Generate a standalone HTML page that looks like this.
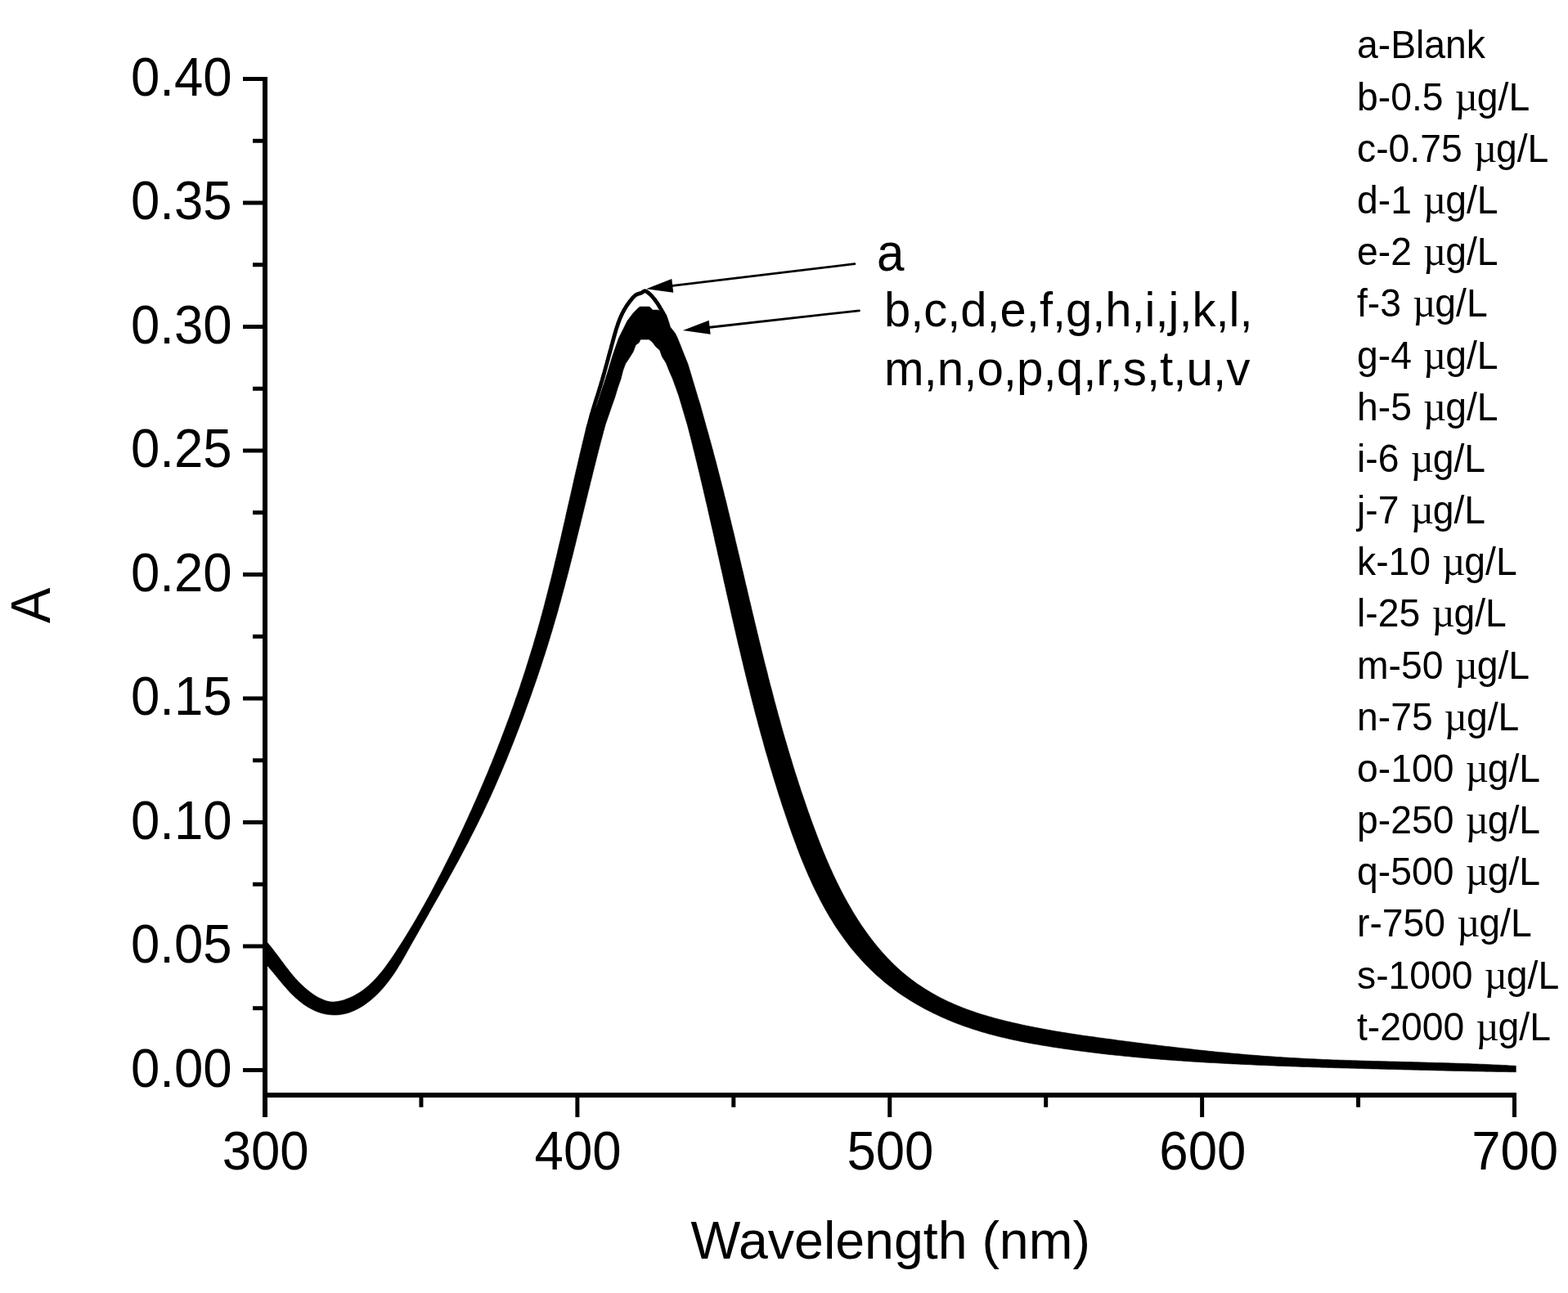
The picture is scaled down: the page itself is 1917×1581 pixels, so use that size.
<!DOCTYPE html>
<html lang="en"><head><meta charset="utf-8"><title>Absorbance vs Wavelength</title>
<style>html,body{margin:0;padding:0;background:#fff;}body{width:1917px;height:1581px;overflow:hidden;}svg{display:block;}text{font-family:"Liberation Sans", Arial, Helvetica, sans-serif;fill:#000;}.mu{font-family:"Liberation Serif", "DejaVu Serif", serif;}</style>
</head><body>
<svg width="1917" height="1581" viewBox="0 0 1917 1581" role="img" aria-label="Absorbance versus wavelength spectra">
<rect x="0" y="0" width="1917" height="1581" fill="#fff"/>
<path d="M324.0,1149.2 L326.7,1152.3 L329.4,1155.5 L331.9,1158.6 L334.4,1161.8 L336.8,1165.0 L339.2,1168.1 L341.6,1171.3 L343.9,1174.5 L346.3,1177.6 L348.6,1180.8 L351.1,1183.9 L353.5,1187.1 L356.0,1190.2 L358.6,1193.3 L361.3,1196.4 L364.1,1199.4 L367.0,1202.4 L370.0,1205.3 L373.0,1208.1 L376.2,1210.8 L379.5,1213.3 L382.8,1215.7 L386.2,1217.9 L389.7,1219.9 L393.3,1221.6 L397.0,1223.2 L400.7,1224.3 L404.6,1225.0 L408.5,1225.1 L412.5,1224.6 L416.5,1223.8 L420.5,1222.7 L424.3,1221.3 L428.0,1219.8 L431.5,1218.2 L435.0,1216.3 L438.4,1214.3 L441.6,1212.2 L444.8,1209.9 L447.9,1207.4 L450.8,1204.9 L453.7,1202.2 L456.6,1199.4 L459.3,1196.6 L462.0,1193.6 L464.6,1190.5 L467.2,1187.4 L469.7,1184.2 L472.1,1180.9 L474.5,1177.6 L476.9,1174.3 L479.2,1170.9 L481.5,1167.5 L483.8,1164.1 L486.0,1160.6 L488.2,1157.2 L490.4,1153.7 L492.6,1150.3 L494.8,1146.8 L496.9,1143.4 L499.0,1139.9 L501.1,1136.4 L503.2,1133.0 L505.3,1129.5 L507.4,1126.0 L509.4,1122.5 L511.4,1119.0 L513.4,1115.5 L515.4,1112.0 L517.4,1108.5 L519.4,1105.0 L521.3,1101.5 L523.3,1097.9 L525.2,1094.4 L527.1,1090.9 L529.0,1087.3 L530.9,1083.8 L532.7,1080.2 L534.6,1076.7 L536.4,1073.1 L538.3,1069.6 L540.1,1066.0 L541.9,1062.4 L543.7,1058.8 L545.5,1055.3 L547.3,1051.7 L549.1,1048.1 L550.9,1044.5 L552.7,1040.9 L554.4,1037.3 L556.2,1033.7 L557.9,1030.0 L559.6,1026.4 L561.4,1022.8 L563.1,1019.2 L564.8,1015.5 L566.5,1011.9 L568.2,1008.2 L569.9,1004.6 L571.6,1000.9 L573.2,997.3 L574.9,993.6 L576.6,989.9 L578.2,986.3 L579.8,982.6 L581.5,978.9 L583.1,975.2 L584.7,971.5 L586.3,967.8 L587.9,964.1 L589.5,960.4 L591.1,956.7 L592.6,953.0 L594.2,949.3 L595.8,945.6 L597.3,941.9 L598.8,938.1 L600.4,934.4 L601.9,930.7 L603.4,926.9 L604.9,923.2 L606.4,919.4 L607.9,915.7 L609.3,911.9 L610.8,908.2 L612.3,904.4 L613.7,900.6 L615.1,896.9 L616.6,893.1 L618.0,889.3 L619.4,885.5 L620.8,881.7 L622.2,878.0 L623.6,874.2 L624.9,870.4 L626.3,866.6 L627.7,862.8 L629.0,859.0 L630.3,855.1 L631.7,851.3 L633.0,847.5 L634.3,843.7 L635.6,839.9 L636.8,836.1 L638.1,832.2 L639.4,828.4 L640.6,824.6 L641.9,820.7 L643.1,816.9 L644.3,813.0 L645.5,809.2 L646.7,805.3 L647.9,801.5 L649.1,797.6 L650.3,793.8 L651.5,789.9 L652.6,786.1 L653.7,782.2 L654.9,778.3 L656.0,774.5 L657.1,770.6 L658.2,766.7 L659.3,762.8 L660.4,759.0 L661.4,755.1 L662.5,751.2 L663.5,747.3 L664.6,743.4 L665.6,739.5 L666.6,735.6 L667.6,731.7 L668.6,727.8 L669.6,723.9 L670.6,720.0 L671.6,716.1 L672.6,712.2 L673.6,708.3 L674.5,704.4 L675.5,700.5 L676.4,696.6 L677.4,692.7 L678.3,688.8 L679.2,684.8 L680.2,680.9 L681.1,677.0 L682.0,673.1 L682.9,669.2 L683.8,665.3 L684.8,661.3 L685.7,657.4 L686.6,653.5 L687.5,649.6 L688.4,645.6 L689.3,641.7 L690.2,637.8 L691.1,633.9 L691.9,629.9 L692.8,626.0 L693.7,622.1 L694.6,618.1 L695.5,614.2 L696.4,610.3 L697.3,606.4 L698.2,602.4 L699.1,598.5 L700.0,594.6 L700.9,590.6 L701.7,586.7 L702.6,582.8 L703.5,578.9 L704.4,574.9 L705.4,571.0 L706.3,567.1 L707.2,563.1 L708.1,559.2 L709.0,555.3 L709.9,551.4 L710.9,547.4 L711.8,543.5 L712.7,539.6 L713.7,535.7 L714.6,531.8 L715.6,527.8 L716.5,523.9 L717.5,520.0 L729.7,495.0 L736.0,476.1 L742.8,455.3 L749.1,434.4 L756.4,413.5 L766.8,392.6 L774.6,382.2 L780.4,376.5 L782.5,375.1 L793.9,375.1 L798.1,379.1 L804.4,379.1 L810.6,382.2 L814.3,384.3 L815.9,388.5 L818.0,394.7 L819.5,399.9 L825.3,407.2 L828.4,413.5 L832.6,423.9 L836.7,434.4 L840.9,444.8 L844.1,455.3 L847.2,465.7 L850.3,476.1 L853.4,486.6 L856.1,495.0 L863.0,520.0 L864.1,523.9 L865.2,527.7 L866.3,531.6 L867.3,535.5 L868.4,539.3 L869.5,543.2 L870.5,547.1 L871.6,551.0 L872.6,554.9 L873.6,558.7 L874.7,562.6 L875.7,566.5 L876.7,570.4 L877.7,574.3 L878.7,578.2 L879.7,582.0 L880.7,585.9 L881.7,589.8 L882.7,593.7 L883.7,597.6 L884.7,601.5 L885.6,605.4 L886.6,609.3 L887.6,613.2 L888.5,617.1 L889.5,621.0 L890.4,624.9 L891.4,628.8 L892.3,632.7 L893.3,636.6 L894.2,640.5 L895.2,644.4 L896.1,648.3 L897.1,652.2 L898.0,656.1 L898.9,660.0 L899.8,663.9 L900.8,667.8 L901.7,671.7 L902.6,675.6 L903.6,679.5 L904.5,683.4 L905.4,687.3 L906.3,691.2 L907.2,695.1 L908.2,699.0 L909.1,702.9 L910.0,706.9 L910.9,710.8 L911.8,714.7 L912.8,718.6 L913.7,722.5 L914.6,726.4 L915.5,730.3 L916.4,734.2 L917.4,738.1 L918.3,742.0 L919.2,745.9 L920.1,749.8 L921.1,753.7 L922.0,757.6 L922.9,761.5 L923.9,765.4 L924.8,769.3 L925.7,773.2 L926.7,777.1 L927.6,781.0 L928.6,784.9 L929.5,788.8 L930.5,792.7 L931.4,796.6 L932.4,800.5 L933.4,804.4 L934.3,808.3 L935.3,812.2 L936.3,816.0 L937.3,819.9 L938.3,823.8 L939.2,827.7 L940.2,831.6 L941.2,835.5 L942.2,839.3 L943.3,843.2 L944.3,847.1 L945.3,851.0 L946.3,854.9 L947.3,858.7 L948.4,862.6 L949.4,866.5 L950.5,870.3 L951.5,874.2 L952.6,878.1 L953.7,881.9 L954.7,885.8 L955.8,889.7 L956.9,893.5 L958.0,897.4 L959.1,901.2 L960.2,905.1 L961.4,908.9 L962.5,912.8 L963.6,916.6 L964.8,920.5 L965.9,924.3 L967.1,928.1 L968.3,932.0 L969.4,935.8 L970.6,939.6 L971.8,943.5 L973.0,947.3 L974.3,951.1 L975.5,954.9 L976.7,958.8 L978.0,962.6 L979.2,966.4 L980.5,970.2 L981.8,974.0 L983.1,977.8 L984.4,981.6 L985.7,985.4 L987.0,989.2 L988.3,993.0 L989.7,996.8 L991.0,1000.6 L992.4,1004.4 L993.8,1008.2 L995.2,1011.9 L996.6,1015.7 L998.0,1019.5 L999.4,1023.2 L1000.9,1027.0 L1002.3,1030.8 L1003.8,1034.5 L1005.3,1038.2 L1006.8,1042.0 L1008.4,1045.7 L1009.9,1049.4 L1011.5,1053.1 L1013.1,1056.8 L1014.7,1060.5 L1016.4,1064.1 L1018.0,1067.8 L1019.7,1071.4 L1021.5,1075.1 L1023.2,1078.7 L1025.0,1082.3 L1026.8,1085.9 L1028.6,1089.4 L1030.4,1093.0 L1032.3,1096.5 L1034.2,1100.0 L1036.2,1103.6 L1038.2,1107.0 L1040.2,1110.5 L1042.2,1114.0 L1044.3,1117.4 L1046.4,1120.8 L1048.5,1124.2 L1050.7,1127.5 L1052.9,1130.9 L1055.2,1134.2 L1057.5,1137.5 L1059.8,1140.8 L1062.2,1144.0 L1064.6,1147.2 L1067.1,1150.4 L1069.5,1153.6 L1072.1,1156.7 L1074.6,1159.7 L1077.2,1162.8 L1079.9,1165.8 L1082.6,1168.8 L1085.3,1171.7 L1088.1,1174.5 L1090.9,1177.4 L1093.8,1180.2 L1096.7,1182.9 L1099.6,1185.6 L1102.6,1188.2 L1105.6,1190.8 L1108.7,1193.3 L1111.8,1195.8 L1115.0,1198.2 L1118.2,1200.5 L1121.4,1202.9 L1124.7,1205.1 L1128.0,1207.3 L1131.4,1209.4 L1134.8,1211.5 L1138.2,1213.6 L1141.6,1215.5 L1145.1,1217.5 L1148.7,1219.4 L1152.2,1221.2 L1155.8,1222.9 L1159.4,1224.7 L1163.0,1226.3 L1166.7,1227.9 L1170.4,1229.5 L1174.1,1231.0 L1177.8,1232.5 L1181.6,1233.9 L1185.4,1235.3 L1189.1,1236.6 L1193.0,1237.9 L1196.8,1239.2 L1200.6,1240.4 L1204.5,1241.5 L1208.3,1242.7 L1212.2,1243.8 L1216.1,1244.9 L1220.0,1245.9 L1223.9,1246.9 L1227.8,1247.9 L1231.7,1248.9 L1235.6,1249.8 L1239.6,1250.7 L1243.5,1251.6 L1247.4,1252.5 L1251.4,1253.4 L1255.3,1254.2 L1259.2,1255.0 L1263.2,1255.8 L1267.1,1256.6 L1271.1,1257.3 L1275.0,1258.1 L1279.0,1258.8 L1282.9,1259.5 L1286.9,1260.2 L1290.8,1260.9 L1294.8,1261.5 L1298.8,1262.2 L1302.7,1262.8 L1306.7,1263.5 L1310.7,1264.1 L1314.6,1264.7 L1318.6,1265.3 L1322.6,1265.9 L1326.5,1266.5 L1330.5,1267.0 L1334.5,1267.6 L1338.5,1268.1 L1342.5,1268.7 L1346.4,1269.2 L1350.4,1269.8 L1354.4,1270.3 L1358.4,1270.8 L1362.3,1271.3 L1366.3,1271.9 L1370.3,1272.4 L1374.3,1272.9 L1378.3,1273.4 L1382.2,1273.9 L1386.2,1274.4 L1390.2,1275.0 L1394.2,1275.5 L1398.2,1276.0 L1402.1,1276.5 L1406.1,1277.0 L1410.1,1277.4 L1414.1,1277.9 L1418.0,1278.4 L1422.0,1278.9 L1426.0,1279.4 L1430.0,1279.8 L1434.0,1280.3 L1437.9,1280.8 L1441.9,1281.2 L1445.9,1281.7 L1449.9,1282.1 L1453.9,1282.6 L1457.9,1283.0 L1461.8,1283.5 L1465.8,1283.9 L1469.8,1284.3 L1473.8,1284.7 L1477.8,1285.2 L1481.8,1285.6 L1485.7,1286.0 L1489.7,1286.4 L1493.7,1286.8 L1497.7,1287.1 L1501.7,1287.5 L1505.7,1287.9 L1509.7,1288.3 L1513.7,1288.6 L1517.7,1289.0 L1521.6,1289.3 L1525.6,1289.7 L1529.6,1290.0 L1533.6,1290.3 L1537.6,1290.6 L1541.6,1290.9 L1545.6,1291.3 L1549.6,1291.5 L1553.6,1291.8 L1557.6,1292.1 L1561.6,1292.4 L1565.6,1292.6 L1569.6,1292.9 L1573.6,1293.1 L1577.6,1293.4 L1581.6,1293.6 L1585.6,1293.8 L1589.6,1294.0 L1593.6,1294.3 L1597.6,1294.5 L1601.6,1294.7 L1605.6,1294.8 L1609.7,1295.0 L1613.7,1295.2 L1617.7,1295.4 L1621.7,1295.5 L1625.7,1295.7 L1629.7,1295.9 L1633.7,1296.0 L1637.7,1296.2 L1641.7,1296.3 L1645.7,1296.4 L1649.8,1296.6 L1653.8,1296.7 L1657.8,1296.8 L1661.8,1296.9 L1665.8,1297.1 L1669.8,1297.2 L1673.8,1297.3 L1677.8,1297.4 L1681.8,1297.5 L1685.9,1297.6 L1689.9,1297.7 L1693.9,1297.8 L1697.9,1297.9 L1701.9,1298.0 L1705.9,1298.1 L1709.9,1298.2 L1713.9,1298.3 L1717.9,1298.4 L1721.9,1298.5 L1725.9,1298.6 L1729.9,1298.7 L1733.9,1298.8 L1737.9,1298.9 L1741.9,1299.0 L1746.0,1299.2 L1750.0,1299.3 L1753.9,1299.4 L1757.9,1299.5 L1761.9,1299.6 L1765.9,1299.7 L1769.9,1299.8 L1773.9,1299.9 L1777.9,1300.1 L1781.9,1300.2 L1785.9,1300.3 L1789.9,1300.5 L1793.9,1300.6 L1797.8,1300.7 L1801.8,1300.9 L1805.8,1301.0 L1809.8,1301.2 L1813.7,1301.3 L1817.7,1301.5 L1821.7,1301.7 L1825.6,1301.9 L1829.6,1302.1 L1833.6,1302.2 L1837.5,1302.4 L1841.5,1302.6 L1845.4,1302.9 L1849.4,1303.1 L1853.3,1303.3 L1853.3,1310.8 L1849.3,1310.7 L1845.3,1310.7 L1841.2,1310.6 L1837.2,1310.5 L1833.2,1310.5 L1829.2,1310.4 L1825.2,1310.3 L1821.2,1310.2 L1817.1,1310.2 L1813.1,1310.1 L1809.1,1310.0 L1805.1,1309.9 L1801.1,1309.9 L1797.0,1309.8 L1793.0,1309.7 L1789.0,1309.6 L1785.0,1309.5 L1781.0,1309.4 L1777.0,1309.4 L1772.9,1309.3 L1768.9,1309.2 L1764.9,1309.1 L1760.9,1309.0 L1756.9,1308.9 L1752.9,1308.8 L1748.8,1308.7 L1744.8,1308.6 L1740.8,1308.5 L1736.8,1308.4 L1732.8,1308.3 L1728.7,1308.2 L1724.7,1308.1 L1720.7,1308.0 L1716.7,1307.9 L1712.7,1307.8 L1708.6,1307.7 L1704.6,1307.6 L1700.6,1307.5 L1696.6,1307.4 L1692.6,1307.3 L1688.6,1307.2 L1684.5,1307.1 L1680.5,1307.0 L1676.5,1306.9 L1672.5,1306.8 L1668.5,1306.7 L1664.4,1306.6 L1660.4,1306.5 L1656.4,1306.3 L1652.4,1306.2 L1648.4,1306.1 L1644.3,1306.0 L1640.3,1305.9 L1636.3,1305.8 L1632.3,1305.7 L1628.3,1305.5 L1624.2,1305.4 L1620.2,1305.3 L1616.2,1305.2 L1612.2,1305.0 L1608.2,1304.9 L1604.2,1304.8 L1600.1,1304.6 L1596.1,1304.5 L1592.1,1304.4 L1588.1,1304.2 L1584.1,1304.1 L1580.1,1304.0 L1576.0,1303.8 L1572.0,1303.7 L1568.0,1303.5 L1564.0,1303.4 L1560.0,1303.2 L1556.0,1303.0 L1552.0,1302.9 L1547.9,1302.7 L1543.9,1302.5 L1539.9,1302.4 L1535.9,1302.2 L1531.9,1302.0 L1527.9,1301.8 L1523.9,1301.7 L1519.9,1301.5 L1515.9,1301.3 L1511.8,1301.1 L1507.8,1300.9 L1503.8,1300.7 L1499.8,1300.5 L1495.8,1300.3 L1491.8,1300.1 L1487.8,1299.8 L1483.8,1299.6 L1479.8,1299.4 L1475.8,1299.2 L1471.8,1298.9 L1467.8,1298.7 L1463.8,1298.4 L1459.8,1298.2 L1455.8,1297.9 L1451.8,1297.7 L1447.8,1297.4 L1443.8,1297.1 L1439.8,1296.9 L1435.8,1296.6 L1431.8,1296.3 L1427.8,1296.0 L1423.8,1295.7 L1419.8,1295.4 L1415.8,1295.0 L1411.8,1294.7 L1407.8,1294.4 L1403.8,1294.0 L1399.8,1293.7 L1395.8,1293.3 L1391.8,1293.0 L1387.8,1292.6 L1383.8,1292.2 L1379.9,1291.8 L1375.9,1291.5 L1371.9,1291.0 L1367.9,1290.6 L1363.9,1290.2 L1359.9,1289.8 L1355.9,1289.4 L1351.9,1288.9 L1347.9,1288.4 L1343.9,1288.0 L1339.9,1287.5 L1335.9,1287.0 L1331.9,1286.5 L1328.0,1286.0 L1324.0,1285.5 L1320.0,1285.0 L1316.0,1284.4 L1312.0,1283.9 L1308.0,1283.3 L1304.0,1282.8 L1300.0,1282.2 L1296.0,1281.6 L1292.0,1281.0 L1288.0,1280.4 L1284.1,1279.8 L1280.1,1279.1 L1276.1,1278.5 L1272.1,1277.8 L1268.1,1277.1 L1264.1,1276.4 L1260.1,1275.7 L1256.2,1275.0 L1252.2,1274.2 L1248.2,1273.4 L1244.3,1272.6 L1240.3,1271.8 L1236.4,1270.9 L1232.4,1270.0 L1228.5,1269.1 L1224.6,1268.2 L1220.7,1267.2 L1216.8,1266.2 L1212.9,1265.2 L1209.0,1264.2 L1205.1,1263.1 L1201.2,1262.0 L1197.3,1260.8 L1193.5,1259.6 L1189.7,1258.4 L1185.8,1257.1 L1182.0,1255.8 L1178.2,1254.5 L1174.4,1253.1 L1170.7,1251.7 L1166.9,1250.2 L1163.2,1248.7 L1159.5,1247.2 L1155.8,1245.6 L1152.1,1244.0 L1148.4,1242.3 L1144.8,1240.6 L1141.2,1238.9 L1137.6,1237.1 L1134.0,1235.3 L1130.4,1233.4 L1126.9,1231.5 L1123.4,1229.5 L1119.9,1227.5 L1116.5,1225.5 L1113.1,1223.4 L1109.7,1221.3 L1106.3,1219.1 L1103.0,1216.9 L1099.7,1214.7 L1096.5,1212.4 L1093.2,1210.0 L1090.1,1207.6 L1086.9,1205.2 L1083.8,1202.7 L1080.7,1200.2 L1077.7,1197.6 L1074.7,1195.0 L1071.7,1192.4 L1068.8,1189.7 L1065.9,1186.9 L1063.0,1184.1 L1060.2,1181.3 L1057.4,1178.4 L1054.7,1175.5 L1052.0,1172.6 L1049.4,1169.6 L1046.7,1166.6 L1044.2,1163.6 L1041.6,1160.5 L1039.1,1157.4 L1036.7,1154.2 L1034.3,1151.0 L1031.9,1147.8 L1029.6,1144.6 L1027.3,1141.3 L1025.0,1138.0 L1022.8,1134.7 L1020.6,1131.4 L1018.5,1128.0 L1016.4,1124.6 L1014.3,1121.2 L1012.3,1117.7 L1010.3,1114.3 L1008.3,1110.8 L1006.4,1107.3 L1004.5,1103.7 L1002.6,1100.2 L1000.8,1096.6 L999.0,1093.0 L997.2,1089.4 L995.4,1085.8 L993.7,1082.2 L992.0,1078.5 L990.4,1074.8 L988.7,1071.2 L987.1,1067.5 L985.5,1063.7 L983.9,1060.0 L982.4,1056.3 L980.8,1052.5 L979.3,1048.8 L977.8,1045.0 L976.4,1041.2 L974.9,1037.4 L973.5,1033.6 L972.1,1029.8 L970.7,1026.0 L969.3,1022.2 L967.9,1018.4 L966.6,1014.6 L965.2,1010.7 L963.9,1006.9 L962.6,1003.1 L961.3,999.3 L960.0,995.4 L958.7,991.6 L957.4,987.7 L956.1,983.9 L954.9,980.1 L953.7,976.2 L952.4,972.4 L951.2,968.5 L950.0,964.7 L948.8,960.8 L947.6,957.0 L946.4,953.1 L945.2,949.3 L944.1,945.4 L942.9,941.5 L941.7,937.7 L940.6,933.8 L939.5,930.0 L938.4,926.1 L937.2,922.2 L936.1,918.4 L935.0,914.5 L933.9,910.6 L932.9,906.8 L931.8,902.9 L930.7,899.0 L929.6,895.1 L928.6,891.3 L927.5,887.4 L926.5,883.5 L925.5,879.6 L924.4,875.7 L923.4,871.9 L922.4,868.0 L921.4,864.1 L920.4,860.2 L919.4,856.3 L918.4,852.4 L917.4,848.5 L916.5,844.6 L915.5,840.8 L914.5,836.9 L913.5,833.0 L912.6,829.1 L911.6,825.2 L910.7,821.3 L909.7,817.4 L908.8,813.5 L907.9,809.6 L906.9,805.7 L906.0,801.8 L905.1,797.9 L904.2,794.0 L903.2,790.1 L902.3,786.2 L901.4,782.3 L900.5,778.4 L899.6,774.5 L898.7,770.6 L897.8,766.7 L896.9,762.8 L896.0,758.8 L895.1,754.9 L894.2,751.0 L893.3,747.1 L892.5,743.2 L891.6,739.3 L890.7,735.4 L889.8,731.5 L888.9,727.6 L888.0,723.7 L887.2,719.7 L886.3,715.8 L885.4,711.9 L884.5,708.0 L883.7,704.1 L882.8,700.2 L881.9,696.2 L881.0,692.3 L880.2,688.4 L879.3,684.5 L878.4,680.6 L877.5,676.7 L876.7,672.7 L875.8,668.8 L874.9,664.9 L874.0,661.0 L873.2,657.1 L872.3,653.2 L871.4,649.2 L870.5,645.3 L869.6,641.4 L868.7,637.5 L867.8,633.6 L866.9,629.7 L866.0,625.7 L865.2,621.8 L864.3,617.9 L863.3,614.0 L862.4,610.1 L861.5,606.1 L860.6,602.2 L859.7,598.3 L858.8,594.4 L857.9,590.5 L856.9,586.6 L856.0,582.6 L855.1,578.7 L854.1,574.8 L853.2,570.9 L852.3,567.0 L851.3,563.1 L850.3,559.1 L849.4,555.2 L848.4,551.3 L847.4,547.4 L846.5,543.5 L845.5,539.6 L844.5,535.6 L843.5,531.7 L842.5,527.8 L841.5,523.9 L840.5,520.0 L833.1,495.0 L830.0,484.5 L826.3,474.1 L822.1,462.6 L818.0,453.2 L814.3,443.8 L809.6,436.5 L806.5,428.1 L801.8,423.9 L797.1,417.7 L793.4,415.1 L783.0,415.1 L781.4,418.7 L777.2,421.9 L774.1,430.2 L768.9,438.6 L764.7,444.8 L761.6,453.2 L759.0,463.6 L755.3,474.1 L752.2,484.5 L748.5,495.0 L739.9,520.0 L738.9,523.9 L737.8,527.8 L736.8,531.7 L735.8,535.5 L734.7,539.4 L733.7,543.3 L732.7,547.2 L731.7,551.1 L730.7,555.0 L729.7,558.9 L728.7,562.8 L727.8,566.7 L726.8,570.6 L725.8,574.5 L724.8,578.4 L723.9,582.3 L722.9,586.2 L721.9,590.1 L721.0,594.0 L720.0,597.9 L719.0,601.8 L718.1,605.7 L717.1,609.7 L716.2,613.6 L715.2,617.5 L714.2,621.4 L713.3,625.3 L712.3,629.2 L711.4,633.1 L710.4,637.0 L709.5,640.9 L708.5,644.8 L707.5,648.7 L706.6,652.6 L705.6,656.5 L704.6,660.4 L703.7,664.3 L702.7,668.2 L701.7,672.1 L700.8,676.0 L699.8,679.9 L698.8,683.8 L697.8,687.7 L696.8,691.6 L695.8,695.5 L694.8,699.4 L693.8,703.3 L692.8,707.2 L691.7,711.1 L690.7,715.0 L689.7,718.8 L688.6,722.7 L687.6,726.6 L686.5,730.5 L685.5,734.4 L684.4,738.2 L683.3,742.1 L682.3,746.0 L681.2,749.8 L680.1,753.7 L678.9,757.6 L677.8,761.4 L676.7,765.3 L675.6,769.1 L674.4,773.0 L673.2,776.8 L672.1,780.7 L670.9,784.5 L669.7,788.4 L668.5,792.2 L667.3,796.0 L666.1,799.9 L664.8,803.7 L663.6,807.5 L662.4,811.3 L661.1,815.2 L659.8,819.0 L658.6,822.8 L657.3,826.6 L656.0,830.4 L654.7,834.2 L653.4,838.0 L652.0,841.8 L650.7,845.6 L649.4,849.4 L648.0,853.2 L646.7,857.0 L645.3,860.8 L643.9,864.6 L642.6,868.3 L641.2,872.1 L639.8,875.9 L638.4,879.7 L636.9,883.4 L635.5,887.2 L634.1,890.9 L632.6,894.7 L631.2,898.5 L629.7,902.2 L628.3,906.0 L626.8,909.7 L625.3,913.4 L623.8,917.2 L622.3,920.9 L620.8,924.6 L619.3,928.4 L617.8,932.1 L616.2,935.8 L614.7,939.5 L613.1,943.2 L611.5,946.9 L609.9,950.6 L608.3,954.3 L606.7,958.0 L605.1,961.7 L603.5,965.3 L601.8,969.0 L600.2,972.7 L598.5,976.3 L596.8,980.0 L595.1,983.6 L593.4,987.2 L591.7,990.8 L590.0,994.5 L588.2,998.1 L586.4,1001.7 L584.7,1005.3 L582.9,1008.9 L581.1,1012.5 L579.3,1016.1 L577.5,1019.6 L575.6,1023.2 L573.8,1026.8 L572.0,1030.4 L570.1,1033.9 L568.2,1037.5 L566.4,1041.0 L564.5,1044.6 L562.6,1048.1 L560.7,1051.7 L558.8,1055.2 L556.8,1058.7 L554.9,1062.3 L553.0,1065.8 L551.0,1069.3 L549.1,1072.8 L547.1,1076.4 L545.1,1079.9 L543.2,1083.4 L541.2,1086.9 L539.2,1090.4 L537.3,1093.9 L535.3,1097.4 L533.3,1100.9 L531.3,1104.4 L529.3,1107.9 L527.3,1111.4 L525.3,1114.9 L523.4,1118.4 L521.4,1121.9 L519.4,1125.4 L517.4,1128.9 L515.4,1132.4 L513.4,1135.9 L511.5,1139.4 L509.5,1142.9 L507.5,1146.4 L505.5,1149.9 L503.6,1153.3 L501.6,1156.8 L499.7,1160.3 L497.7,1163.8 L495.8,1167.3 L493.8,1170.8 L491.8,1174.2 L489.8,1177.7 L487.7,1181.1 L485.6,1184.5 L483.4,1187.9 L481.2,1191.2 L478.9,1194.5 L476.5,1197.8 L474.1,1201.0 L471.5,1204.2 L468.9,1207.4 L466.2,1210.4 L463.3,1213.5 L460.4,1216.4 L457.4,1219.2 L454.3,1222.0 L451.1,1224.6 L447.8,1227.0 L444.5,1229.4 L441.0,1231.5 L437.5,1233.5 L434.0,1235.2 L430.4,1236.8 L426.7,1238.2 L422.9,1239.3 L419.1,1240.1 L415.3,1240.7 L411.4,1241.0 L407.6,1241.0 L403.7,1240.8 L399.8,1240.3 L396.0,1239.6 L392.2,1238.6 L388.4,1237.3 L384.8,1235.8 L381.2,1234.0 L377.6,1232.1 L374.2,1230.0 L370.8,1227.7 L367.6,1225.2 L364.4,1222.6 L361.3,1219.9 L358.3,1217.1 L355.4,1214.2 L352.6,1211.2 L349.8,1208.1 L347.1,1205.0 L344.5,1201.9 L341.9,1198.8 L339.4,1195.7 L336.8,1192.5 L334.3,1189.4 L331.7,1186.4 L329.2,1183.4 L326.6,1180.4 L324.0,1177.6 Z" fill="#000" stroke="#000" stroke-width="0.6" stroke-linejoin="round"/>
<path d="M718.4,527.0 L718.8,525.0 L719.2,523.0 L719.6,521.0 L720.1,519.0 L720.5,517.1 L721.0,515.1 L721.5,513.1 L722.1,511.2 L722.6,509.2 L723.1,507.3 L723.7,505.3 L724.3,503.4 L724.8,501.4 L725.4,499.5 L726.0,497.6 L726.6,495.6 L727.2,493.7 L727.8,491.8 L728.4,489.8 L729.0,487.9 L729.6,486.0 L730.3,484.0 L730.9,482.1 L731.5,480.2 L732.1,478.2 L732.7,476.3 L733.3,474.3 L733.9,472.4 L734.5,470.5 L735.0,468.5 L735.6,466.6 L736.2,464.6 L736.7,462.7 L737.3,460.7 L737.9,458.8 L738.4,456.8 L739.0,454.9 L739.5,452.9 L740.1,450.9 L740.6,449.0 L741.1,447.0 L741.7,445.1 L742.2,443.1 L742.7,441.2 L743.3,439.2 L743.8,437.2 L744.3,435.3 L744.9,433.3 L745.4,431.4 L745.9,429.4 L746.5,427.4 L747.0,425.5 L747.5,423.5 L748.0,421.6 L748.6,419.6 L749.1,417.7 L749.6,415.7 L750.2,413.7 L750.7,411.8 L751.3,409.8 L751.8,407.9 L752.4,406.0 L752.9,404.0 L753.5,402.1 L754.1,400.2 L754.8,398.2 L755.4,396.3 L756.1,394.4 L756.8,392.5 L757.5,390.6 L758.3,388.8 L759.1,386.9 L759.9,385.1 L760.8,383.2 L761.8,381.4 L762.7,379.6 L763.8,377.8 L764.8,376.1 L765.9,374.3 L767.0,372.6 L768.2,371.0 L769.4,369.3 L770.6,367.7 L771.9,366.2 L773.1,364.6 L774.4,363.2 L775.8,361.9 L777.4,360.7 L779.1,359.8 L781.1,359.1 L783.1,358.5 L785.1,357.6 L786.9,356.3 L788.5,355.7 L790.2,356.2 L791.9,357.5 L793.6,358.8 L795.1,360.2 L796.5,361.7 L797.9,363.2 L799.2,364.7 L800.5,366.3 L801.7,368.0 L802.9,369.6 L804.0,371.3 L805.1,373.0 L806.1,374.7 L807.1,376.5 L808.2,378.2 L809.2,380.0 L810.2,381.7 L811.2,383.5" fill="none" stroke="#000" stroke-width="4.8" stroke-linejoin="round" stroke-linecap="round"/>
<g stroke="#000" fill="none" stroke-linecap="butt">
<line x1="324.00" y1="94.00" x2="324.00" y2="1366.00" stroke-width="6.00"/>
<line x1="321.00" y1="1339.00" x2="1854.00" y2="1339.00" stroke-width="6.00"/>
<line x1="297.00" y1="1308.50" x2="324.00" y2="1308.50" stroke-width="5.00"/>
<line x1="309.00" y1="1232.75" x2="324.00" y2="1232.75" stroke-width="5.00"/>
<line x1="297.00" y1="1157.00" x2="324.00" y2="1157.00" stroke-width="5.00"/>
<line x1="309.00" y1="1081.25" x2="324.00" y2="1081.25" stroke-width="5.00"/>
<line x1="297.00" y1="1005.50" x2="324.00" y2="1005.50" stroke-width="5.00"/>
<line x1="309.00" y1="929.75" x2="324.00" y2="929.75" stroke-width="5.00"/>
<line x1="297.00" y1="854.00" x2="324.00" y2="854.00" stroke-width="5.00"/>
<line x1="309.00" y1="778.25" x2="324.00" y2="778.25" stroke-width="5.00"/>
<line x1="297.00" y1="702.50" x2="324.00" y2="702.50" stroke-width="5.00"/>
<line x1="309.00" y1="626.75" x2="324.00" y2="626.75" stroke-width="5.00"/>
<line x1="297.00" y1="551.00" x2="324.00" y2="551.00" stroke-width="5.00"/>
<line x1="309.00" y1="475.25" x2="324.00" y2="475.25" stroke-width="5.00"/>
<line x1="297.00" y1="399.50" x2="324.00" y2="399.50" stroke-width="5.00"/>
<line x1="309.00" y1="323.75" x2="324.00" y2="323.75" stroke-width="5.00"/>
<line x1="297.00" y1="248.00" x2="324.00" y2="248.00" stroke-width="5.00"/>
<line x1="309.00" y1="172.25" x2="324.00" y2="172.25" stroke-width="5.00"/>
<line x1="297.00" y1="96.50" x2="324.00" y2="96.50" stroke-width="5.00"/>
<line x1="514.94" y1="1339.00" x2="514.94" y2="1353.80" stroke-width="5.00"/>
<line x1="705.88" y1="1339.00" x2="705.88" y2="1366.00" stroke-width="5.00"/>
<line x1="896.81" y1="1339.00" x2="896.81" y2="1353.80" stroke-width="5.00"/>
<line x1="1087.75" y1="1339.00" x2="1087.75" y2="1366.00" stroke-width="5.00"/>
<line x1="1278.69" y1="1339.00" x2="1278.69" y2="1353.80" stroke-width="5.00"/>
<line x1="1469.62" y1="1339.00" x2="1469.62" y2="1366.00" stroke-width="5.00"/>
<line x1="1660.56" y1="1339.00" x2="1660.56" y2="1353.80" stroke-width="5.00"/>
<line x1="1851.50" y1="1339.00" x2="1851.50" y2="1366.00" stroke-width="5.00"/>
</g>
<text transform="translate(283.60,1328.90) scale(0.9520,1)" font-size="66.70" text-anchor="end">0.00</text>
<text transform="translate(283.60,1177.40) scale(0.9520,1)" font-size="66.70" text-anchor="end">0.05</text>
<text transform="translate(283.60,1025.90) scale(0.9520,1)" font-size="66.70" text-anchor="end">0.10</text>
<text transform="translate(283.60,874.40) scale(0.9520,1)" font-size="66.70" text-anchor="end">0.15</text>
<text transform="translate(283.60,722.90) scale(0.9520,1)" font-size="66.70" text-anchor="end">0.20</text>
<text transform="translate(283.60,571.40) scale(0.9520,1)" font-size="66.70" text-anchor="end">0.25</text>
<text transform="translate(283.60,419.90) scale(0.9520,1)" font-size="66.70" text-anchor="end">0.30</text>
<text transform="translate(283.60,268.40) scale(0.9520,1)" font-size="66.70" text-anchor="end">0.35</text>
<text transform="translate(283.60,116.90) scale(0.9520,1)" font-size="66.70" text-anchor="end">0.40</text>
<text transform="translate(324.70,1430.00) scale(0.9520,1)" font-size="66.70" text-anchor="middle">300</text>
<text transform="translate(706.58,1430.00) scale(0.9520,1)" font-size="66.70" text-anchor="middle">400</text>
<text transform="translate(1088.45,1430.00) scale(0.9520,1)" font-size="66.70" text-anchor="middle">500</text>
<text transform="translate(1470.33,1430.00) scale(0.9520,1)" font-size="66.70" text-anchor="middle">600</text>
<text transform="translate(1852.20,1430.00) scale(0.9520,1)" font-size="66.70" text-anchor="middle">700</text>
<text transform="translate(844.60,1538.60) scale(0.9915,1)" font-size="65.00">Wavelength (nm)</text>
<text transform="translate(61.00,740.40) rotate(-90) scale(0.9550,1)" font-size="68.40" text-anchor="middle">A</text>
<text transform="translate(1072.10,331.00) scale(0.9400,1)" font-size="64.00">a</text>
<text transform="translate(1081.00,399.00) scale(0.9900,1)" font-size="58.50">b,c,d,e,f,g,h,i,j,k,l,</text>
<text transform="translate(1081.00,470.90) scale(0.9970,1)" font-size="58.50">m,n,o,p,q,r,s,t,u,v</text>
<line x1="1044.89" y1="322.73" x2="822.27" y2="349.34" stroke="#000" stroke-width="2.80" stroke-linecap="round"/>
<polygon points="790.00,353.20 821.26,340.90 823.28,357.78" fill="#000"/>
<line x1="1050.39" y1="379.84" x2="867.70" y2="400.24" stroke="#000" stroke-width="2.80" stroke-linecap="round"/>
<polygon points="834.90,403.90 866.75,391.79 868.64,408.69" fill="#000"/>
<g font-size="47.50">
<text transform="translate(1659.00,70.80) scale(0.9750,1)">a-Blank</text>
<text transform="translate(1659.00,134.60) scale(0.9750,1)" xml:space="preserve">b-0.5 <tspan class="mu" font-size="50.0" dx="1.36">µ</tspan><tspan dx="-1.08">g/L</tspan></text>
<text transform="translate(1659.00,197.78) scale(0.9750,1)" xml:space="preserve">c-0.75 <tspan class="mu" font-size="50.0" dx="1.36">µ</tspan><tspan dx="-1.08">g/L</tspan></text>
<text transform="translate(1659.00,260.96) scale(0.9750,1)" xml:space="preserve">d-1 <tspan class="mu" font-size="50.0" dx="1.36">µ</tspan><tspan dx="-1.08">g/L</tspan></text>
<text transform="translate(1659.00,324.14) scale(0.9750,1)" xml:space="preserve">e-2 <tspan class="mu" font-size="50.0" dx="1.36">µ</tspan><tspan dx="-1.08">g/L</tspan></text>
<text transform="translate(1659.00,387.32) scale(0.9750,1)" xml:space="preserve">f-3 <tspan class="mu" font-size="50.0" dx="1.36">µ</tspan><tspan dx="-1.08">g/L</tspan></text>
<text transform="translate(1659.00,450.50) scale(0.9750,1)" xml:space="preserve">g-4 <tspan class="mu" font-size="50.0" dx="1.36">µ</tspan><tspan dx="-1.08">g/L</tspan></text>
<text transform="translate(1659.00,513.68) scale(0.9750,1)" xml:space="preserve">h-5 <tspan class="mu" font-size="50.0" dx="1.36">µ</tspan><tspan dx="-1.08">g/L</tspan></text>
<text transform="translate(1659.00,576.86) scale(0.9750,1)" xml:space="preserve">i-6 <tspan class="mu" font-size="50.0" dx="1.36">µ</tspan><tspan dx="-1.08">g/L</tspan></text>
<text transform="translate(1659.00,640.04) scale(0.9750,1)" xml:space="preserve">j-7 <tspan class="mu" font-size="50.0" dx="1.36">µ</tspan><tspan dx="-1.08">g/L</tspan></text>
<text transform="translate(1659.00,703.22) scale(0.9750,1)" xml:space="preserve">k-10 <tspan class="mu" font-size="50.0" dx="1.36">µ</tspan><tspan dx="-1.08">g/L</tspan></text>
<text transform="translate(1659.00,766.40) scale(0.9750,1)" xml:space="preserve">l-25 <tspan class="mu" font-size="50.0" dx="1.36">µ</tspan><tspan dx="-1.08">g/L</tspan></text>
<text transform="translate(1659.00,829.58) scale(0.9750,1)" xml:space="preserve">m-50 <tspan class="mu" font-size="50.0" dx="1.36">µ</tspan><tspan dx="-1.08">g/L</tspan></text>
<text transform="translate(1659.00,892.76) scale(0.9750,1)" xml:space="preserve">n-75 <tspan class="mu" font-size="50.0" dx="1.36">µ</tspan><tspan dx="-1.08">g/L</tspan></text>
<text transform="translate(1659.00,955.94) scale(0.9750,1)" xml:space="preserve">o-100 <tspan class="mu" font-size="50.0" dx="1.36">µ</tspan><tspan dx="-1.08">g/L</tspan></text>
<text transform="translate(1659.00,1019.12) scale(0.9750,1)" xml:space="preserve">p-250 <tspan class="mu" font-size="50.0" dx="1.36">µ</tspan><tspan dx="-1.08">g/L</tspan></text>
<text transform="translate(1659.00,1082.30) scale(0.9750,1)" xml:space="preserve">q-500 <tspan class="mu" font-size="50.0" dx="1.36">µ</tspan><tspan dx="-1.08">g/L</tspan></text>
<text transform="translate(1659.00,1145.48) scale(0.9750,1)" xml:space="preserve">r-750 <tspan class="mu" font-size="50.0" dx="1.36">µ</tspan><tspan dx="-1.08">g/L</tspan></text>
<text transform="translate(1659.00,1208.66) scale(0.9750,1)" xml:space="preserve">s-1000 <tspan class="mu" font-size="50.0" dx="1.36">µ</tspan><tspan dx="-1.08">g/L</tspan></text>
<text transform="translate(1659.00,1271.84) scale(0.9750,1)" xml:space="preserve">t-2000 <tspan class="mu" font-size="50.0" dx="1.36">µ</tspan><tspan dx="-1.08">g/L</tspan></text>
</g>
</svg>
</body></html>
